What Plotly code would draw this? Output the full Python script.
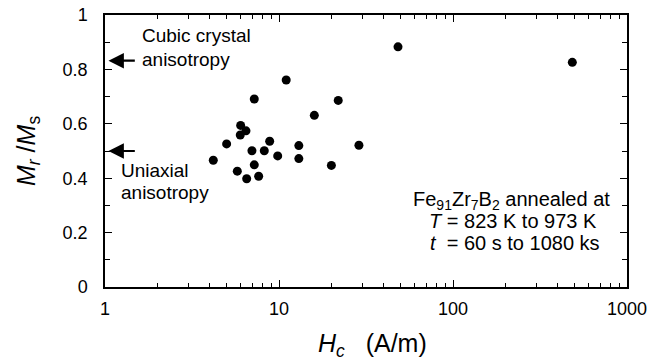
import math
import plotly.graph_objects as go

# Data
hc = [48.3, 485, 11.0, 7.21, 21.9, 15.96, 6.02, 6.46, 5.99, 5.0, 8.84, 6.99,
      8.23, 9.83, 4.19, 7.21, 5.76, 7.64, 6.52, 13.0, 13.0, 28.8, 20.0]
mr_ms = [0.883, 0.826, 0.761, 0.691, 0.686, 0.631, 0.594, 0.574, 0.559, 0.526,
         0.536, 0.501, 0.501, 0.482, 0.466, 0.449, 0.426, 0.407, 0.398, 0.520,
         0.472, 0.521, 0.447]

x_ticks = [1, 10, 100, 1000]
x_ticklabels = ["1", "10", "100", "1000"]
x_minor = [m * d for d in (1, 10, 100) for m in range(2, 10)]
y_ticks = [0, 0.2, 0.4, 0.6, 0.8, 1.0]
y_ticklabels = ["0", "0.2", "0.4", "0.6", "0.8", "1"]
y_minor = [0.1, 0.3, 0.5, 0.7, 0.9]

cubic_level = 0.832
uniaxial_level = 0.5

FONT = "Liberation Sans, Arial, Helvetica, sans-serif"

fig = go.Figure()
fig.add_trace(go.Scatter(
    x=hc, y=mr_ms, mode="markers",
    marker=dict(color="black", size=9, line=dict(width=0)),
    showlegend=False,
))

axis_common = dict(
    showline=True, linecolor="black", linewidth=1.5, mirror="ticks",
    ticks="inside", tickcolor="black", tickwidth=1.2,
    showgrid=False, zeroline=False, automargin=False,
    tickfont=dict(family=FONT, size=18, color="black"),
)

fig.update_xaxes(
    type="log", range=[0, 3],
    tickvals=x_ticks, ticktext=x_ticklabels, ticklen=7,
    minor=dict(tickvals=x_minor, ticks="inside", ticklen=4, tickcolor="black",
               tickwidth=1, showgrid=False),
    ticklabelstandoff=5,
    **axis_common,
)
fig.update_yaxes(
    range=[0, 1],
    tickvals=y_ticks, ticktext=y_ticklabels, ticklen=7,
    minor=dict(tickvals=y_minor, ticks="inside", ticklen=5, tickcolor="black",
               tickwidth=1, showgrid=False),
    ticklabelstandoff=12,
    **axis_common,
)

tfont = dict(family=FONT, size=20, color="black")
ann = []
# axis titles
ann.append(dict(x=0.513, y=-0.213, xref="paper", yref="paper",
                text="<i>H</i><sub><i>c</i></sub>   (A/m)", showarrow=False,
                xanchor="center", yanchor="middle",
                font=dict(family=FONT, size=25, color="black")))
ann.append(dict(x=-0.1475, y=0.5, xref="paper", yref="paper",
                text="<i>M</i><sub><i>r</i></sub> /<i>M</i><sub>s</sub>",
                showarrow=False, textangle=-90,
                xanchor="center", yanchor="middle",
                font=dict(family=FONT, size=25, color="black")))
# arrows
for lvl in (cubic_level, uniaxial_level):
    ann.append(dict(x=0.02, y=lvl, xref="x", yref="y", ax=0.18, ay=lvl,
                    axref="x", ayref="y", text="", showarrow=True,
                    arrowhead=2, arrowsize=1.4, arrowwidth=2.2,
                    arrowcolor="black"))
# texts
texts = [
    ("Cubic crystal", 0.2, 0.926, "left", 19),
    ("anisotropy", 0.2, 0.838, "left", 19),
    ("Uniaxial", 0.083, 0.428, "left", 19),
    ("anisotropy", 0.083, 0.346, "left", 19),
    ("Fe<sub>91</sub>Zr<sub>7</sub>B<sub>2</sub> annealed at", 2.914, 0.318, "right", 20),
    ("<i>T</i> = 823 K to 973 K", 2.837, 0.243, "right", 20),
    ("<i>t</i>  = 60 s to 1080 ks", 2.857, 0.162, "right", 20),
]
for t, x, y, anc, fs in texts:
    ann.append(dict(x=x, y=y, xref="x", yref="y", text=t, showarrow=False,
                    xanchor=anc, yanchor="middle",
                    font=dict(family=FONT, size=fs, color="black")))

fig.update_layout(
    width=649, height=364,
    margin=dict(l=105, r=22, t=15, b=77),
    paper_bgcolor="white", plot_bgcolor="white",
    annotations=ann,
    font=dict(family=FONT, color="black"),
)

fig.write_html("out.html")
